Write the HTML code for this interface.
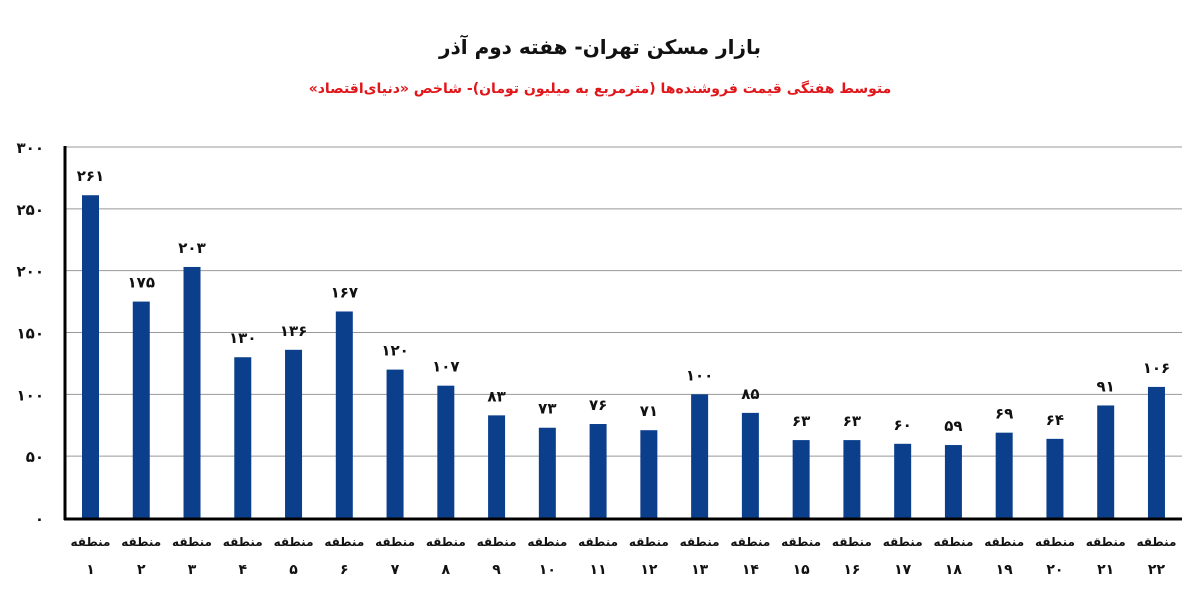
<!DOCTYPE html>
<html><head><meta charset="utf-8"><style>
body{margin:0;background:#fff;}
svg text{font-family:"DejaVu Sans",sans-serif;font-weight:bold;}
</style></head><body>
<svg width="1200" height="596" xmlns="http://www.w3.org/2000/svg">
<rect width="1200" height="596" fill="#fff"/>
<text x="600" y="54" text-anchor="middle" font-size="20" fill="#111" direction="rtl">بازار مسکن تهران- هفته دوم آذر</text>
<text x="600" y="93" text-anchor="middle" font-size="14" fill="#e0161b" direction="rtl">متوسط هفتگی قیمت فروشنده‌ها (مترمربع به میلیون تومان)- شاخص «دنیای‌اقتصاد»</text>
</svg>
<script>
const svg=document.querySelector('svg');const ns='http://www.w3.org/2000/svg';
function el(t,a,txt){const e=document.createElementNS(ns,t);for(const k in a)e.setAttribute(k,a[k]);if(txt!==undefined)e.textContent=txt;svg.appendChild(e);return e;}
const fa=n=>String(n).replace(/\d/g,d=>'۰۱۲۳۴۵۶۷۸۹'[d]);
const y0=518,s=(518-147)/300;
for(let v=0;v<=300;v+=50){const y=y0-v*s;
 if(v>0)el('line',{x1:65,x2:1182,y1:y,y2:y,stroke:'#999','stroke-width':1});
 el('text',{x:44,y:y+6,'text-anchor':'end','font-size':15,fill:'#111'},fa(v));}
const d=[261,175,203,130,136,167,120,107,83,73,76,71,100,85,63,63,60,59,69,64,91,106];
d.forEach((v,i)=>{const x=82+i*50.76,h=v*s;
 el('rect',{x:x,y:y0-h,width:17,height:h,fill:'#0b3f8c'});
 el('text',{x:x+8.5,y:y0-h-14,'text-anchor':'middle','font-size':15,fill:'#111'},fa(v));
 el('text',{x:x+8.5,y:546,'text-anchor':'middle','font-size':12,fill:'#111',direction:'rtl'},'منطقه');
 el('text',{x:x+8.5,y:574,'text-anchor':'middle','font-size':14,fill:'#111'},fa(i+1));
});
el('line',{x1:65,x2:65,y1:146,y2:520,stroke:'#000','stroke-width':3});
el('line',{x1:64,x2:1182,y1:519,y2:519,stroke:'#000','stroke-width':3});
</script>
</body></html>
